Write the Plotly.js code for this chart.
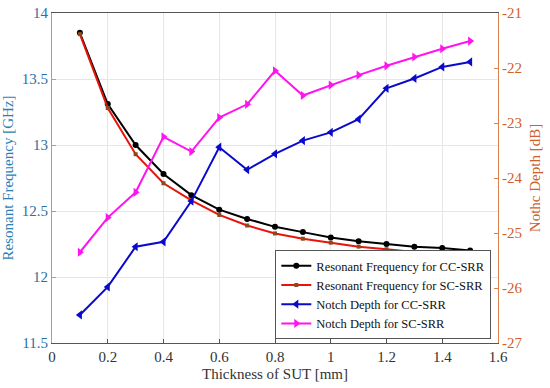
<!DOCTYPE html>
<html><head><meta charset="utf-8">
<script src="https://cdn.plot.ly/plotly-3.0.1.min.js"></script>
<style>html,body{margin:0;padding:0;background:#fff}#c{width:550px;height:388px}</style>
</head><body><div id="c"></div>
<script>
const thickness = [0.1,0.2,0.3,0.4,0.5,0.6,0.7,0.8,0.9,1.0,1.1,1.2,1.3,1.4,1.5];
const freqCC = [13.85,13.31,13.00,12.78,12.62,12.51,12.44,12.38,12.34,12.30,12.27,12.25,12.23,12.22,12.20];
const freqSC = [13.84,13.28,12.93,12.71,12.58,12.47,12.39,12.33,12.29,12.26,12.23,12.21,12.19,12.18,12.17];
const depthCC = [-26.49,-25.98,-25.25,-25.16,-24.42,-23.44,-23.85,-23.56,-23.32,-23.17,-22.93,-22.37,-22.19,-21.98,-21.89];
const depthSC = [-25.35,-24.72,-24.26,-23.25,-23.52,-22.90,-22.66,-22.05,-22.50,-22.31,-22.13,-21.96,-21.80,-21.65,-21.51];
const names = ['Resonant Frequency for CC-SRR','Resonant Frequency for SC-SRR','Notch Depth for CC-SRR','Notch Depth for SC-SRR'];

const font = 'Liberation Serif, serif';
const traces = [
  {x:thickness,y:freqCC,name:names[0],mode:'lines+markers',line:{color:'#000000',width:2},marker:{symbol:'circle',size:6,color:'#000000'}},
  {x:thickness,y:freqSC,name:names[1],mode:'lines+markers',line:{color:'#e8140c',width:2},marker:{symbol:'square',size:4,color:'#8b4a1a'}},
  {x:thickness,y:depthCC,name:names[2],yaxis:'y2',mode:'lines+markers',line:{color:'#0a0acc',width:2},marker:{symbol:'triangle-left',size:8,color:'#0a0acc'}},
  {x:thickness,y:depthSC,name:names[3],yaxis:'y2',mode:'lines+markers',line:{color:'#ff14f0',width:2},marker:{symbol:'triangle-right',size:8,color:'#ff14f0'}}
];
const layout = {
  width:550,height:388,
  margin:{l:52,r:52,t:13,b:45},
  paper_bgcolor:'#fff',plot_bgcolor:'#fff',
  font:{family:font,size:15,color:'#333'},
  showlegend:true,
  legend:{x:0.985,y:0.012,xanchor:'right',yanchor:'bottom',bgcolor:'#fff',bordercolor:'#555',borderwidth:1,font:{family:font,size:12.5,color:'#111'},itemwidth:30,tracegroupgap:0},
  xaxis:{range:[0,1.6],tickvals:[0,0.2,0.4,0.6,0.8,1,1.2,1.4,1.6],ticktext:['0','0.2','0.4','0.6','0.8','1','1.2','1.4','1.6'],
    showgrid:true,gridcolor:'#e6e6e6',zeroline:false,showline:true,linecolor:'#555',mirror:true,ticks:'inside',ticklen:4,tickcolor:'#555',
    tickfont:{family:font,size:15,color:'#333'},
    title:{text:'Thickness of SUT [mm]',font:{family:font,size:15,color:'#333'},standoff:4}},
  yaxis:{range:[11.5,14],tickvals:[11.5,12,12.5,13,13.5,14],ticktext:['11.5','12','12.5','13','13.5','14'],
    showgrid:true,gridcolor:'#e6e6e6',zeroline:false,showline:true,linecolor:'#7fa9c8',ticks:'inside',ticklen:4,tickcolor:'#7fa9c8',
    tickfont:{family:font,size:15,color:'#2f6f9f'},
    title:{text:'Resonant Frequency [GHz]',font:{family:font,size:15,color:'#2a7fb5'},standoff:8}},
  yaxis2:{range:[-27,-21],overlaying:'y',side:'right',tickvals:[-27,-26,-25,-24,-23,-22,-21],ticktext:['-27','-26','-25','-24','-23','-22','-21'],
    showgrid:false,zeroline:false,showline:true,linecolor:'#d98050',ticks:'inside',ticklen:4,tickcolor:'#d98050',
    tickfont:{family:font,size:15,color:'#d0602a'},
    title:{text:'Nothc Depth [dB]',font:{family:font,size:15,color:'#d0602a'},standoff:8}}
};
Plotly.newPlot('c',traces,layout,{displayModeBar:false,staticPlot:true});
</script></body></html>
